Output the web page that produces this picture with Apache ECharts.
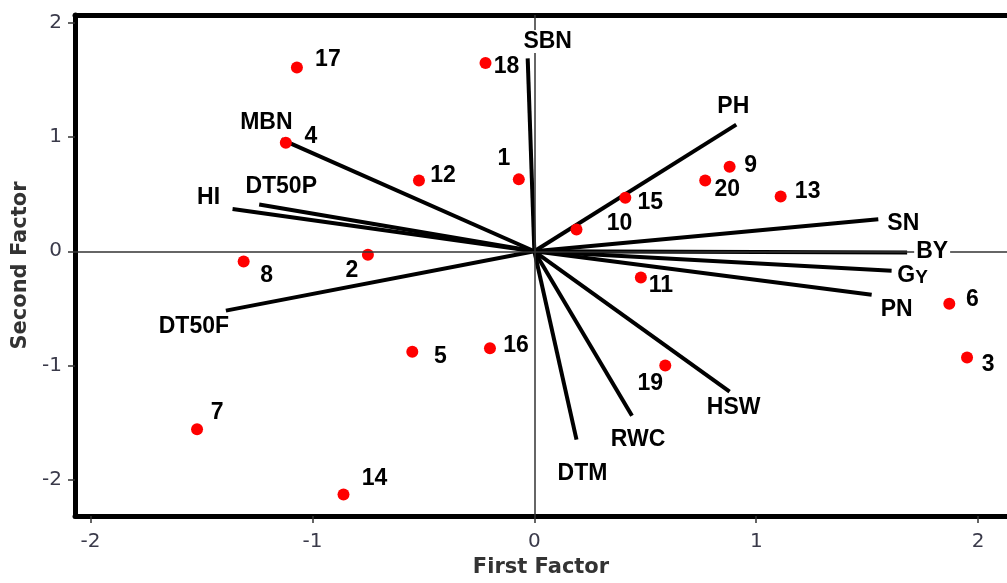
<!DOCTYPE html>
<html>
<head>
<meta charset="utf-8">
<title>Biplot - First and Second Factor</title>
<script src="https://cdn.jsdelivr.net/npm/echarts@6/dist/echarts.min.js"></script>
<style>
    html, body { margin: 0; padding: 0; background: #fff; }
    #chart { width: 1007px; height: 583px; }
</style>
</head>
<body>
<div id="chart"></div>
<script>
// Genotype scores (first factor, second factor)
var genotypes = ['1', '2', '3', '4', '5', '6', '7', '8', '9', '10',
                 '11', '12', '13', '14', '15', '16', '17', '18', '19', '20'];
var scoreX = [-0.07, -0.75, 1.95, -1.12, -0.55, 1.87, -1.52, -1.31, 0.88, 0.19,
              0.48, -0.52, 1.11, -0.86, 0.41, -0.20, -1.07, -0.22, 0.59, 0.77];
var scoreY = [0.63, -0.03, -0.93, 0.95, -0.88, -0.46, -1.56, -0.09, 0.74, 0.19,
              -0.23, 0.62, 0.48, -2.13, 0.47, -0.85, 1.61, 1.65, -1.00, 0.62];

// Trait loadings (vector end points)
var traits = ['SBN', 'MBN', 'HI', 'DT50P', 'DT50F', 'PH', 'SN', 'BY', 'GY', 'PN', 'HSW', 'RWC', 'DTM'];
var loadX = [-0.03, -1.14, -1.36, -1.24, -1.39, 0.91, 1.55, 1.68, 1.61, 1.52, 0.88, 0.44, 0.19];
var loadY = [1.69, 0.98, 0.37, 0.41, -0.52, 1.11, 0.28, -0.01, -0.17, -0.38, -1.23, -1.44, -1.65];

// Axis ticks
var tickValues = [-2, -1, 0, 1, 2];

// Label placement (pixel offsets from the mark), layout only
var genoOffset = {
    '1': [-15, -21], '2': [-16, 16], '3': [21, 7], '4': [25, -6], '5': [28, 5],
    '6': [23, -4], '7': [20, -17], '8': [23, 14], '9': [21, -1], '10': [43, -6],
    '11': [20, 8], '12': [24, -5], '13': [27, -5], '14': [31, -16], '15': [25, 5],
    '16': [26, -3], '17': [31, -8], '18': [21, 4], '19': [-15, 18], '20': [22, 9]
};
var traitOffset = {
    'SBN': [20, -17], 'MBN': [-15, -17], 'HI': [-24, -11], 'DT50P': [22, -18],
    'DT50F': [-32, 16], 'PH': [-3, -18], 'SN': [25, 4], 'BY': [25, -1],
    'GY': [21, 5], 'PN': [25, 15], 'HSW': [4, 16], 'RWC': [6, 24], 'DTM': [6, 34]
};

(function() {
    'use strict';

    var chart = echarts.init(document.getElementById('chart'));

    var labelFont = 'Liberation Sans, Arial, sans-serif';
    var axisFont = 'DejaVu Sans, Verdana, sans-serif';

    var pointData = genotypes.map(function(g, i) {
        return {
            name: g,
            value: [scoreX[i], scoreY[i]],
            label: { offset: genoOffset[g] }
        };
    });

    var vectorData = traits.map(function(t, i) {
        return { name: t, coords: [[0, 0], [loadX[i], loadY[i]]] };
    });

    var traitLabelData = traits.map(function(t, i) {
        return {
            name: t,
            value: [loadX[i], loadY[i]],
            label: { offset: traitOffset[t] }
        };
    });

    var xRange = { min: -2.07, max: 2.13 };
    var yRange = { min: -2.32, max: 2.07 };

    var option = {
        animation: false,
        backgroundColor: '#fff',
        grid: { left: 75, right: 0, top: 15, bottom: 63 },
        xAxis: [{
            type: 'value',
            min: xRange.min,
            max: xRange.max,
            name: 'First Factor',
            nameLocation: 'middle',
            nameGap: 40,
            nameTextStyle: { fontFamily: axisFont, fontWeight: 'bold', fontSize: 21, color: '#333' },
            axisLine: { onZero: false, lineStyle: { color: '#000', width: 5 } },
            axisTick: { show: true, length: 7, customValues: tickValues, lineStyle: { color: '#333', width: 1.5 } },
            axisLabel: { customValues: tickValues, margin: 16, fontFamily: axisFont, fontSize: 20, color: '#3a3a4a' },
            splitLine: { show: false }
        }, {
            type: 'value',
            position: 'top',
            min: xRange.min,
            max: xRange.max,
            axisLine: { onZero: false, lineStyle: { color: '#000', width: 5 } },
            axisTick: { show: false },
            axisLabel: { show: false },
            splitLine: { show: false }
        }],
        yAxis: {
            type: 'value',
            min: yRange.min,
            max: yRange.max,
            name: 'Second Factor',
            nameLocation: 'middle',
            nameGap: 44,
            nameTextStyle: { fontFamily: axisFont, fontWeight: 'bold', fontSize: 21, color: '#333' },
            axisLine: { onZero: false, lineStyle: { color: '#000', width: 5 } },
            axisTick: { show: true, length: 7, customValues: tickValues, lineStyle: { color: '#333', width: 1.5 } },
            axisLabel: { customValues: tickValues, margin: 13, fontFamily: axisFont, fontSize: 20, color: '#3a3a4a' },
            splitLine: { show: false }
        },
        series: [{
            // zero reference lines
            name: 'zero',
            type: 'scatter',
            data: [],
            silent: true,
            z: 1,
            markLine: {
                silent: true,
                symbol: 'none',
                label: { show: false },
                lineStyle: { color: '#333', width: 1.5, type: 'solid' },
                data: [{ xAxis: 0 }, { yAxis: 0 }]
            }
        }, {
            name: 'Traits',
            type: 'lines',
            coordinateSystem: 'cartesian2d',
            silent: true,
            z: 3,
            lineStyle: { color: '#000', width: 4, opacity: 1, curveness: 0 },
            data: vectorData
        }, {
            name: 'Trait labels',
            type: 'scatter',
            symbolSize: 0,
            silent: true,
            z: 5,
            itemStyle: { opacity: 1 },
            label: {
                show: true,
                position: 'inside',
                align: 'center',
                verticalAlign: 'middle',
                fontFamily: labelFont,
                fontWeight: 'bold',
                fontSize: 23,
                color: '#000',
                backgroundColor: '#fff',
                padding: [0, 2],
                formatter: function(p) {
                    return p.name === 'GY' ? '{g|G}{y|Y}' : p.name;
                },
                rich: {
                    g: { fontFamily: labelFont, fontWeight: 'bold', fontSize: 23, color: '#000' },
                    y: { fontFamily: labelFont, fontWeight: 'bold', fontSize: 19, color: '#000', verticalAlign: 'bottom' }
                }
            },
            data: traitLabelData
        }, {
            name: 'Genotypes',
            type: 'scatter',
            symbol: 'circle',
            symbolSize: 12,
            z: 4,
            itemStyle: { color: '#ff0000', opacity: 1 },
            label: {
                show: true,
                position: 'inside',
                align: 'center',
                verticalAlign: 'middle',
                fontFamily: labelFont,
                fontWeight: 'bold',
                fontSize: 23,
                color: '#000',
                formatter: '{b}'
            },
            data: pointData
        }]
    };

    chart.setOption(option);

    window.addEventListener('resize', function() {
        chart.resize();
    });
})();
</script>
</body>
</html>
